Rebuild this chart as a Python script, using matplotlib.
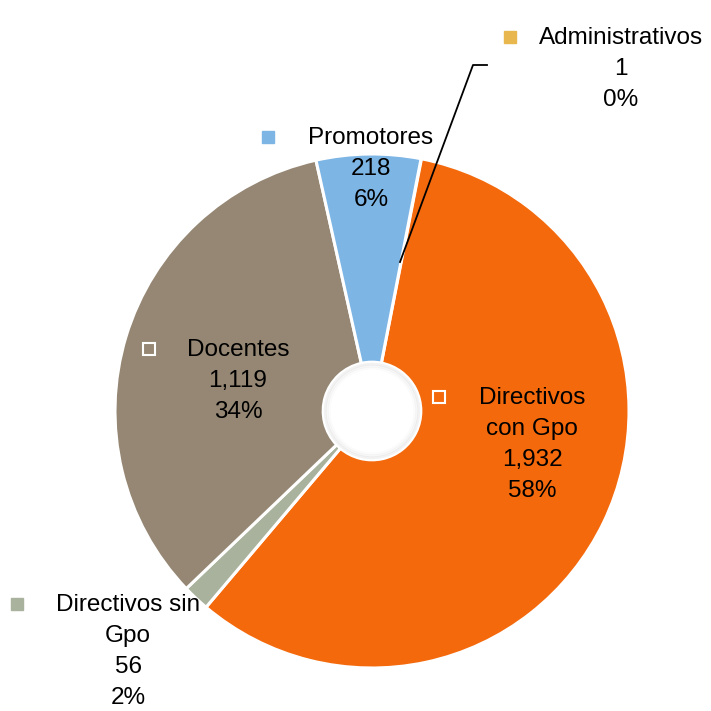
import numpy as np
import matplotlib.pyplot as plt

categorias = ["Administrativos", "Directivos con Gpo", "Directivos sin Gpo", "Docentes", "Promotores"]
valores = [1, 1932, 56, 1119, 218]
porcentajes = [0, 58, 2, 34, 6]
etiquetas = ["Administrativos", "Directivos\ncon Gpo", "Directivos sin\nGpo", "Docentes", "Promotores"]
colores = ["#E8B84F", "#F4690C", "#A9B29C", "#958774", "#7DB5E5"]

plt.rcParams['font.family'] = ['Liberation Sans', 'DejaVu Sans']

fig = plt.figure(figsize=(7.11, 7.11), dpi=100)
ax = fig.add_axes([0, 0, 1, 1])

cx, cy, r = 372, 300, 257
ax.pie(valores, colors=colores, center=(cx, cy), radius=r,
       startangle=79, counterclock=False,
       wedgeprops=dict(width=r * 0.81, edgecolor='white', linewidth=2.2))
ax.set_xlim(0, 711)
ax.set_ylim(0, 711)
ax.set_aspect('equal')
ax.axis('off')

# sombra suave en el hueco
for k, a in enumerate([0.10, 0.06, 0.03]):
    ax.add_patch(plt.Circle((cx, cy), r * 0.19 - 2 - 2 * k, fill=False,
                            ec='gray', lw=2, alpha=a))

# posiciones de etiquetas (px desde arriba): marcador x, texto x, y primera linea
pos = [(510, 621, 37), (439, 532, 397), (17, 128, 604), (149, 238, 349), (268, 371, 137)]
hueco = [False, True, False, True, False]

for i, (mx, tx, ty) in enumerate(pos):
    texto = f"{etiquetas[i]}\n{valores[i]:,}\n{porcentajes[i]}%"
    ax.text(tx, 711 - ty + 10, texto, ha='center', va='top', fontsize=17.5,
            linespacing=1.53, color='black')
    if hueco[i]:
        ax.plot(mx, 711 - ty, marker='s', ms=8.5, mfc=colores[i], mec='white', mew=1.5)
    else:
        ax.plot(mx, 711 - ty, marker='s', ms=8.5, mfc=colores[i], mec=colores[i])

# linea guia Administrativos
ax.plot([400, 473, 487], [711 - 262, 711 - 65, 711 - 65], color='black', lw=1.3)

fig.savefig("out.png", dpi=100)
